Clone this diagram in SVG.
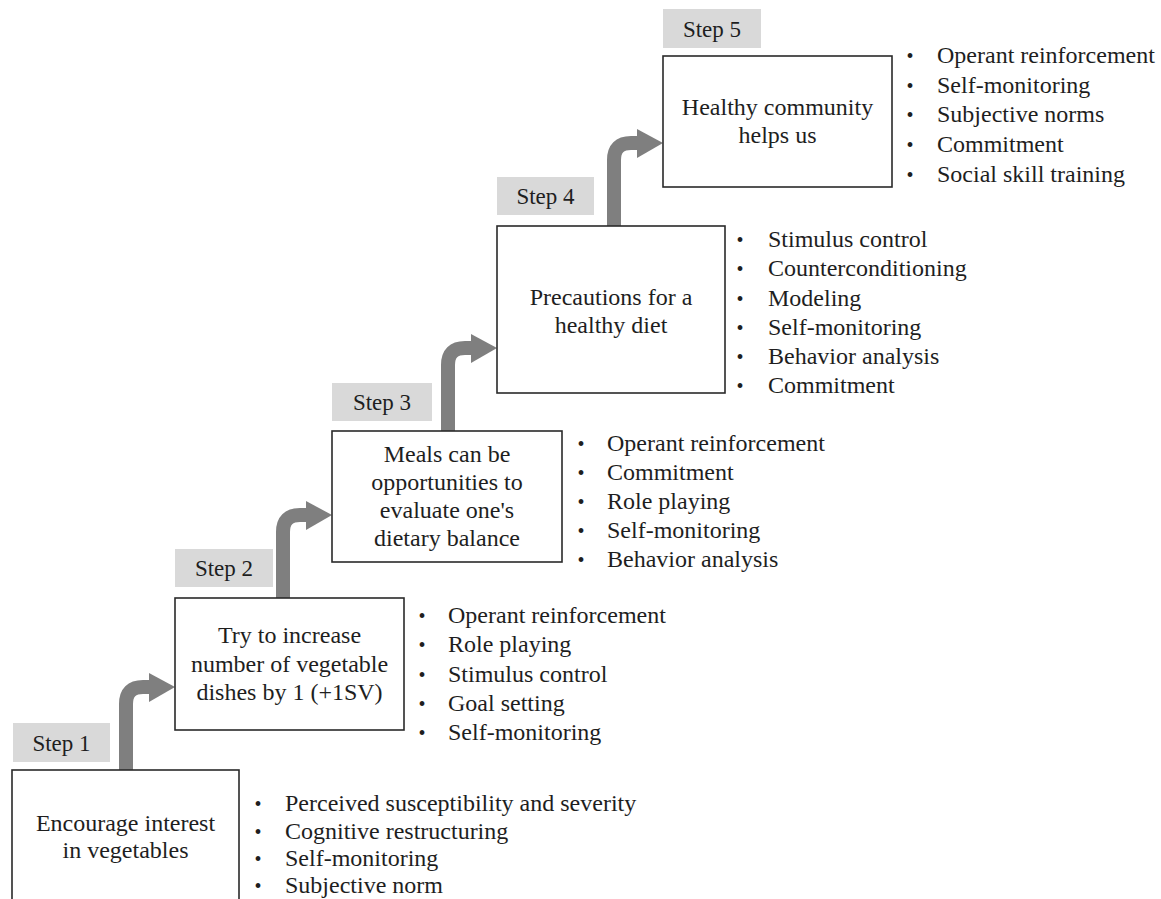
<svg xmlns="http://www.w3.org/2000/svg" width="1161" height="899" viewBox="0 0 1161 899">
<defs>
<style>
text{font-family:"Liberation Serif","Times New Roman",serif;fill:#1e1e1e}
.box{fill:#fff;stroke:#2a2a2a;stroke-width:1.6}
.lbl{fill:#d9d9d9}
.lt{font-size:23px;text-anchor:middle}
.bt{font-size:24px;text-anchor:middle}
.li{font-size:24px}
.bu{font-size:20px;text-anchor:middle}
.shaft{fill:none;stroke:#7f7f7f;stroke-width:14}
.head{fill:#7f7f7f}
</style>
<g id="arrowShape">
<path class="shaft" d="M0,0 V-66 Q0,-83 17,-83 H26"/>
<polygon class="head" points="23,-97 49,-83 23,-68"/>
</g>
</defs>
<rect width="1161" height="899" fill="#fff"/>
<g id="connectors">
<use href="#arrowShape" x="126" y="770"/>
<use href="#arrowShape" x="283" y="598"/>
<use href="#arrowShape" x="448" y="431"/>
<use href="#arrowShape" x="614" y="226"/>
</g>
<g id="step1">
<rect class="lbl" x="13" y="723" width="97" height="39"/>
<text class="lt" x="61.5" y="751">Step 1</text>
<rect class="box" x="12" y="770" width="227" height="140"/>
<text class="bt" x="125.5" y="831">Encourage interest</text>
<text class="bt" x="125.5" y="858">in vegetables</text>
<g class="li">
<text class="bu" x="258" y="811">•</text><text x="285" y="811">Perceived susceptibility and severity</text>
<text class="bu" x="258" y="839">•</text><text x="285" y="839">Cognitive restructuring</text>
<text class="bu" x="258" y="866">•</text><text x="285" y="866">Self-monitoring</text>
<text class="bu" x="258" y="893">•</text><text x="285" y="893">Subjective norm</text>
</g>
</g>
<g id="step2">
<rect class="lbl" x="175" y="549" width="98" height="38"/>
<text class="lt" x="224" y="576">Step 2</text>
<rect class="box" x="175" y="598" width="229" height="132"/>
<text class="bt" x="289.5" y="643">Try to increase</text>
<text class="bt" x="289.5" y="671.5">number of vegetable</text>
<text class="bt" x="289.5" y="700">dishes by 1 (+1SV)</text>
<g class="li">
<text class="bu" x="422" y="623">•</text><text x="448" y="623">Operant reinforcement</text>
<text class="bu" x="422" y="652">•</text><text x="448" y="652">Role playing</text>
<text class="bu" x="422" y="682">•</text><text x="448" y="682">Stimulus control</text>
<text class="bu" x="422" y="711">•</text><text x="448" y="711">Goal setting</text>
<text class="bu" x="422" y="740">•</text><text x="448" y="740">Self-monitoring</text>
</g>
</g>
<g id="step3">
<rect class="lbl" x="332" y="383" width="100" height="38"/>
<text class="lt" x="382" y="410">Step 3</text>
<rect class="box" x="332" y="431" width="230" height="131"/>
<text class="bt" x="447" y="462">Meals can be</text>
<text class="bt" x="447" y="490">opportunities to</text>
<text class="bt" x="447" y="518">evaluate one's</text>
<text class="bt" x="447" y="546">dietary balance</text>
<g class="li">
<text class="bu" x="581" y="451">•</text><text x="607" y="451">Operant reinforcement</text>
<text class="bu" x="581" y="480">•</text><text x="607" y="480">Commitment</text>
<text class="bu" x="581" y="509">•</text><text x="607" y="509">Role playing</text>
<text class="bu" x="581" y="538">•</text><text x="607" y="538">Self-monitoring</text>
<text class="bu" x="581" y="567">•</text><text x="607" y="567">Behavior analysis</text>
</g>
</g>
<g id="step4">
<rect class="lbl" x="497" y="177" width="97" height="38"/>
<text class="lt" x="545.5" y="204">Step 4</text>
<rect class="box" x="497" y="226" width="228" height="167"/>
<text class="bt" x="611" y="305">Precautions for a</text>
<text class="bt" x="611" y="333">healthy diet</text>
<g class="li">
<text class="bu" x="740" y="247">•</text><text x="768" y="247">Stimulus control</text>
<text class="bu" x="740" y="276">•</text><text x="768" y="276">Counterconditioning</text>
<text class="bu" x="740" y="305.5">•</text><text x="768" y="305.5">Modeling</text>
<text class="bu" x="740" y="335">•</text><text x="768" y="335">Self-monitoring</text>
<text class="bu" x="740" y="364">•</text><text x="768" y="364">Behavior analysis</text>
<text class="bu" x="740" y="393">•</text><text x="768" y="393">Commitment</text>
</g>
</g>
<g id="step5">
<rect class="lbl" x="663" y="9" width="98" height="39"/>
<text class="lt" x="712" y="37">Step 5</text>
<rect class="box" x="663" y="56" width="229" height="131"/>
<text class="bt" x="777.5" y="115">Healthy community</text>
<text class="bt" x="777.5" y="143">helps us</text>
<g class="li">
<text class="bu" x="910" y="63">•</text><text x="937" y="63">Operant reinforcement</text>
<text class="bu" x="910" y="93">•</text><text x="937" y="93">Self-monitoring</text>
<text class="bu" x="910" y="122">•</text><text x="937" y="122">Subjective norms</text>
<text class="bu" x="910" y="152">•</text><text x="937" y="152">Commitment</text>
<text class="bu" x="910" y="182">•</text><text x="937" y="182">Social skill training</text>
</g>
</g>
</svg>
